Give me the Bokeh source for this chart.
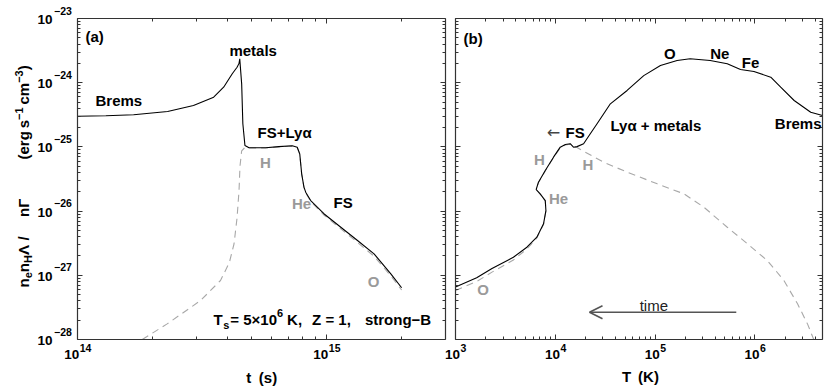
import numpy as np
from bokeh.plotting import figure
from bokeh.models import (Range1d, FixedTicker, LogAxis, LogScale, Label, Arrow, OpenHead,
                          CustomJSTickFormatter)
from bokeh.embed import file_html
from bokeh.resources import INLINE

# ---------------- data ----------------
# panel (a): cooling vs time t (s)
t_total = [1.00e14, 1.30e14, 1.68e14, 2.30e14, 2.92e14, 3.52e14, 3.86e14, 4.18e14,
           4.37e14, 4.45e14, 4.48e14, 4.56e14, 4.61e14, 4.70e14, 4.88e14, 5.69e14,
           6.43e14, 7.28e14, 7.62e14, 7.80e14, 7.94e14, 8.11e14, 8.24e14, 8.63e14,
           9.75e14, 1.14e15, 1.33e15, 1.55e15, 1.81e15, 2.00e15]
L_total_t = [3.00e-25, 3.06e-25, 3.16e-25, 3.56e-25, 4.42e-25, 5.94e-25, 8.50e-25, 1.38e-24,
             1.74e-24, 2.00e-24, 2.35e-24, 9.60e-25, 2.29e-25, 1.05e-25, 9.70e-26, 9.70e-26,
             1.01e-25, 1.04e-25, 9.90e-26, 7.80e-26, 3.81e-26, 2.36e-26, 1.97e-26, 1.46e-26,
             9.10e-27, 5.60e-27, 3.48e-27, 2.16e-27, 1.05e-27, 6.40e-28]
t_dash = [1.82e14, 2.29e14, 3.12e14, 3.75e14, 4.07e14, 4.25e14, 4.37e14,
          4.45e14, 4.49e14, 4.56e14, 4.70e14, 4.88e14, 5.69e14, 6.43e14, 7.28e14,
          7.62e14, 7.80e14, 7.94e14, 8.11e14, 8.24e14, 8.63e14, 9.75e14, 1.14e15,
          1.33e15, 1.55e15, 1.81e15, 2.00e15]
L_dash_t = [1.0e-28, 1.75e-28, 4.05e-28, 8.3e-28, 1.58e-27, 3.1e-27, 7.9e-27,
            2.09e-26, 5.0e-26, 8.7e-26, 9.8e-26, 9.6e-26, 9.6e-26, 1.0e-25, 1.03e-25,
            9.8e-26, 7.7e-26, 3.75e-26, 2.33e-26, 1.93e-26, 1.42e-26, 8.7e-27, 5.3e-27,
            3.25e-27, 1.98e-27, 9.8e-28, 5.9e-28]

# panel (b): cooling vs temperature T (K)
T_total = [1.00e3, 1.63e3, 2.32e3, 3.80e3, 5.19e3, 6.53e3, 7.62e3, 8.05e3, 7.93e3, 7.05e3,
           6.43e3, 6.78e3, 7.93e3, 9.59e3, 1.12e4, 1.26e4, 1.41e4, 1.52e4, 1.65e4, 1.92e4,
           2.24e4, 2.62e4, 3.56e4, 5.24e4, 7.69e4, 1.13e5, 1.66e5, 2.24e5, 3.56e5, 5.28e5,
           7.16e5, 9.77e5, 1.44e6, 1.81e6, 2.47e6, 3.62e6, 4.75e6]
L_total_T = [6.58e-28, 9.14e-28, 1.28e-27, 1.91e-27, 2.74e-27, 3.92e-27, 6.34e-27, 1.02e-26,
             1.46e-26, 1.86e-26, 2.17e-26, 2.82e-26, 4.29e-26, 6.92e-26, 9.90e-26, 1.09e-25,
             1.12e-25, 9.90e-26, 1.01e-25, 1.12e-25, 1.60e-25, 2.29e-25, 4.69e-25, 7.57e-25,
             1.29e-24, 1.85e-24, 2.22e-24, 2.36e-24, 2.22e-24, 1.97e-24, 1.61e-24, 1.49e-24,
             1.22e-24, 8.50e-25, 5.28e-25, 3.47e-25, 3.08e-25]
T_dash = [1.00e3, 1.63e3, 2.32e3, 3.80e3, 5.19e3, 6.53e3, 7.62e3, 8.05e3, 7.93e3, 7.05e3,
          6.43e3, 6.78e3, 7.93e3, 9.59e3, 1.12e4, 1.26e4, 1.41e4, 1.52e4, 1.65e4, 1.85e4,
          3.05e4, 5.24e4, 1.05e5, 1.94e5, 3.08e5, 5.28e5, 8.40e5, 1.33e6, 1.95e6, 2.67e6,
          3.36e6, 3.88e6]
L_dash_T = [5.79e-28, 8.0e-28, 1.12e-27, 1.73e-27, 2.57e-27, 3.81e-27, 6.2e-27, 1.0e-26,
            1.44e-26, 1.84e-26, 2.15e-26, 2.78e-26, 4.2e-26, 6.8e-26, 9.7e-26, 1.07e-25,
            1.10e-25, 9.9e-26, 9.8e-26, 8.8e-26, 5.78e-26, 4.04e-26, 2.66e-26, 1.86e-26,
            1.15e-26, 5.61e-27, 3.1e-27, 1.70e-27, 8.3e-28, 3.6e-28, 1.75e-28, 1.0e-28]

time_arrow_T = [6.5e5, 2.2e4]
time_arrow_L = 2.66e-28

x_range_a = (1e14, 3e15)
x_range_b = (1e3, 4.75e6)
y_range = (1e-28, 1e-23)
x_major_a = [1e14, 1e15]
x_major_b = [1e3, 1e4, 1e5, 1e6]
y_major = [1e-28, 1e-27, 1e-26, 1e-25, 1e-24, 1e-23]
x_labels_a = ["14", "15"]
x_labels_b = ["3", "4", "5", "6"]
y_labels = ["\u221228", "\u221227", "\u221226", "\u221225", "\u221224", "\u221223"]

# ---------------- geometry (page pixels) ----------------
FONT = "Liberation Sans"
W, H = 830, 387
BOX1 = (77, 445)            # page x of panel (a) axes box
BOX2 = (455, 822)           # page x of panel (b) axes box
BOX_Y = (18, 339)           # page y of top / bottom of both boxes
AX = "#333333"
GRAY = "#9a9a9a"


def ext_range(lo, hi, p_lo, p_hi, c_lo, c_hi):
    ppd = (p_hi - p_lo) / np.log10(hi / lo)
    a = np.log10(lo) - (p_lo - c_lo) / ppd
    b = np.log10(hi) + (c_hi - p_hi) / ppd
    return 10 ** a, 10 ** b


def minor_of(lo, hi):
    out = []
    d = 10.0 ** np.floor(np.log10(lo))
    while d <= hi:
        for m in range(2, 10):
            if lo < m * d < hi:
                out.append(m * d)
        d *= 10
    return out


ppd_y = (BOX_Y[1] - BOX_Y[0]) / np.log10(y_range[1] / y_range[0])
Y_EXT = (10 ** (np.log10(y_range[0]) - (H - BOX_Y[1]) / ppd_y),
         10 ** (np.log10(y_range[1]) + BOX_Y[0] / ppd_y))
XA_EXT = ext_range(*x_range_a, *BOX1, 0, W)
XB_EXT = ext_range(*x_range_b, *BOX2, 0, W)

p = figure(x_axis_type=None, y_axis_type=None, title=None,
           x_range=Range1d(*XA_EXT), y_range=Range1d(*Y_EXT),
           width=W, height=H, min_border=0,
           output_backend="svg", toolbar_location=None)
p.x_scale = LogScale()
p.y_scale = LogScale()
p.extra_x_ranges = {"T": Range1d(*XB_EXT)}
p.extra_x_scales = {"T": LogScale()}
p.outline_line_color = None
p.background_fill_color = "white"
p.border_fill_color = "white"

axes = []
for rn, xr, xmaj in (("default", x_range_a, x_major_a), ("T", x_range_b, x_major_b)):
    for side, loc in (("below", y_range[0]), ("above", y_range[1])):
        ax = LogAxis(x_range_name=rn, fixed_location=loc, bounds=xr,
                     ticker=FixedTicker(ticks=xmaj, minor_ticks=minor_of(*xr)))
        p.add_layout(ax, side)
        axes.append(ax)
    for side, loc in (("left", xr[0]), ("right", xr[1])):
        ax = LogAxis(x_range_name=rn, fixed_location=loc, bounds=y_range,
                     ticker=FixedTicker(ticks=y_major, minor_ticks=minor_of(*y_range)))
        p.add_layout(ax, side)
        axes.append(ax)
for ax in axes:
    ax.formatter = CustomJSTickFormatter(code="return ''")
    ax.major_label_text_font_size = "0px"
    ax.major_label_standoff = 0
    ax.axis_line_color = AX
    ax.axis_line_width = 1.2
    ax.major_tick_line_color = AX
    ax.minor_tick_line_color = AX
    ax.major_tick_in = 5
    ax.major_tick_out = 0
    ax.minor_tick_in = 3
    ax.minor_tick_out = 0


def put(X, Y, text, size=15, color="#000000", bold=True,
        align="left", baseline="middle", angle=0.0, font=FONT):
    p.add_layout(Label(x=X, y=H - Y, x_units="screen", y_units="screen",
                       text=text, text_font=font, text_font_size=f"{size}px",
                       text_font_style="bold" if bold else "normal",
                       text_color=color, text_align=align, text_baseline=baseline,
                       angle=angle))


# curves
p.line(t_dash, L_dash_t, line_color="#a8a8a8", line_width=1.1, line_dash="7 5")
p.line(t_total, L_total_t, line_color="#000000", line_width=1.1)
p.line(T_dash, L_dash_T, line_color="#a8a8a8", line_width=1.1, line_dash="7 5",
       x_range_name="T")
p.line(T_total, L_total_T, line_color="#000000", line_width=1.1, x_range_name="T")

p.add_layout(Arrow(end=OpenHead(size=13, line_color="#555555", line_width=1.6),
                   x_start=time_arrow_T[0], y_start=time_arrow_L,
                   x_end=time_arrow_T[1], y_end=time_arrow_L,
                   line_color="#555555", line_width=1.6, x_range_name="T"))

# ---------------- tick labels ----------------
W10 = 2 * 0.556 * 13.5


def xpix(v, xr, box):
    return box[0] + np.log10(v / xr[0]) / np.log10(xr[1] / xr[0]) * (box[1] - box[0])


for xr, box, ticks, labs in ((x_range_a, BOX1, x_major_a, x_labels_a),
                             (x_range_b, BOX2, x_major_b, x_labels_b)):
    for v, s in zip(ticks, labs):
        X = xpix(v, xr, box)
        wsup = 0.556 * 10.5 * len(s)
        xl = X - (W10 + wsup) / 2
        put(xl, 354, "10", 13.5)
        put(xl + W10 + 0.5, 347, s, 10.5)

for v, s in zip(y_major, y_labels):
    Y = BOX_Y[1] - np.log10(v / y_range[0]) * ppd_y
    put(52, Y + 1, "10", 13.5, align="right")
    put(53.5, Y - 8, s, 10.5)

# axis titles
put(248.3, 376.5, "t", 15, align="center")
put(267.5, 376.5, "(s)", 15, align="center")
put(626, 375.5, "T", 15, align="center")
put(648, 375.5, "(K)", 15, align="center")

# rotated y title, built bottom-to-top
YX = 23
R = np.pi / 2
yl_pieces = [  # (start page-y, text, size, x shift)
    (287.0, "n", 15, 0), (277.8, "e", 11, 4), (271.7, "n", 15, 0), (262.5, "H", 11, 4),
    (254.6, "\u039b", 15, 0), (240.0, "/", 15, 0), (216.5, "n\u0393", 15, 0),
    (159.0, "(erg", 15, 0), (127.7, "s", 15, 0), (119.4, "\u22121", 11, -5),
    (104.0, "cm", 15, 0), (82.3, "\u22123", 11, -5), (69.8, ")", 15, 0),
]
for Ys, txt, sz, dx in yl_pieces:
    put(YX + dx, Ys, txt, sz, align="left", angle=R)

# ---------------- annotations panel (a) ----------------
put(85, 36, "(a)")
put(252.7, 50, "metals", align="center")
put(95, 100, "Brems")
put(257, 131.7, "FS+Ly\u03b1")
put(265, 161.7, "H", color=GRAY, align="center")
put(301, 203, "He", color=GRAY, align="center")
put(342.7, 201.7, "FS", align="center")
put(373, 281, "O", color=GRAY, align="center")
put(213, 319, "T")
put(222.7, 324.5, "s", 11)
put(229.8, 319, "= 5\u00d710")
put(276.5, 312, "6", 11)
put(286.6, 319, "K,")
put(311.6, 319, "Z = 1,")
put(364.4, 319, "strong\u2212B")

# ---------------- annotations panel (b) ----------------
put(463, 37.5, "(b)")
put(669.3, 53.3, "O", align="center")
put(719.3, 53.3, "Ne", align="center")
put(750, 61.7, "Fe", align="center")
put(821, 123.3, "Brems", align="right")
put(610, 125, "Ly\u03b1 + metals")
put(553, 132.3, "\u2190", 16, color="#444444", bold=False, align="center",
    font="DejaVu Sans")
put(565, 132.3, "FS")
put(539, 159.3, "H", color=GRAY, align="center")
put(587.3, 164, "H", color=GRAY, align="center")
put(558, 198.3, "He", color=GRAY, align="center")
put(482.7, 289, "O", color=GRAY, align="center")
put(653.3, 305, "time", color="#222222", bold=False, align="center")

open("out.html", "w").write(file_html(p, INLINE))
